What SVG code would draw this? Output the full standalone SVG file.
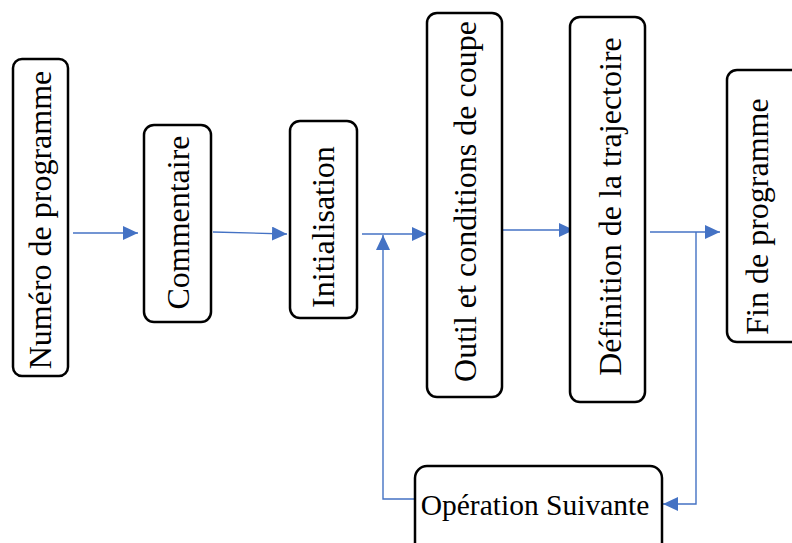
<svg xmlns="http://www.w3.org/2000/svg" width="792" height="543" viewBox="0 0 792 543">
<defs>
<marker id="ah" viewBox="0 0 15 14" refX="15" refY="7" markerWidth="15" markerHeight="14" markerUnits="userSpaceOnUse" orient="auto">
<path d="M0,0 L15,7 L0,14 Z" fill="#4472C4"/>
</marker>
<style>
.box{fill:#fff;stroke:#000;stroke-width:2.5}
.t{font-family:"Liberation Serif","Times New Roman",serif;font-size:32px;fill:#000;text-anchor:middle}
.h{font-size:29.5px}
.c{fill:none;stroke:#4472C4;stroke-width:1.4}
</style>
</defs>
<g id="connectors">
<path class="c" d="M73,233 L138,233" marker-end="url(#ah)"/>
<path class="c" d="M213,232 L287,234" marker-end="url(#ah)"/>
<path class="c" d="M362,234 L427,234" marker-end="url(#ah)"/>
<path class="c" d="M503,230 L574,230" marker-end="url(#ah)"/>
<path class="c" d="M650,232 L720,232" marker-end="url(#ah)"/>
<path class="c" d="M696,232 L696,504 L663,504" marker-end="url(#ah)"/>
<path class="c" d="M415,499 L383,499 L383,235" marker-end="url(#ah)"/>
</g>
<g id="n1"><rect class="box" x="13" y="59" width="55" height="317" rx="9"/>
<text class="t" transform="rotate(-90 40.5 220)" x="40.5" y="230.5">Numéro de programme</text></g>
<g id="n2"><rect class="box" x="144" y="125" width="67" height="197" rx="10"/>
<text class="t" transform="rotate(-90 177.5 222.5)" x="177.5" y="234">Commentaire</text></g>
<g id="n3"><rect class="box" x="290" y="121" width="67" height="197" rx="10"/>
<text class="t" transform="rotate(-90 323.5 227)" x="323.5" y="237.5">Initialisation</text></g>
<g id="n4"><rect class="box" x="427" y="13" width="75" height="384" rx="10"/>
<text class="t" transform="rotate(-90 464.5 201.5)" x="464.5" y="213">Outil et conditions de coupe</text></g>
<g id="n5"><rect class="box" x="570" y="17" width="75" height="385" rx="10"/>
<text class="t" transform="rotate(-90 607.5 206.5)" x="607.5" y="220">Définition de la trajectoire</text></g>
<g id="n6"><rect class="box" x="727" y="70" width="75" height="272" rx="10"/>
<text class="t" transform="rotate(-90 764.5 216.5)" x="764.5" y="220">Fin de programme</text></g>
<g id="n7"><rect class="box" x="415" y="466" width="247" height="100" rx="12"/>
<text class="t h" x="535" y="515">Opération Suivante</text></g>
</svg>
